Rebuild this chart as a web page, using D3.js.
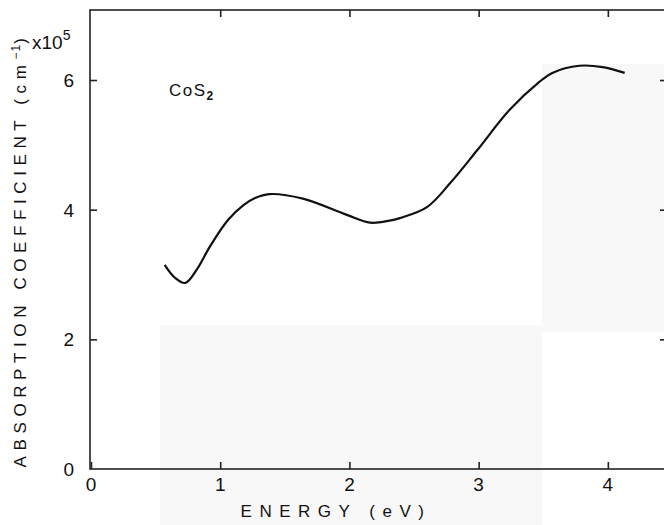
<!DOCTYPE html>
<html>
<head>
<meta charset="utf-8">
<script src="https://cdn.jsdelivr.net/npm/d3@7"></script>
<style>
  body { margin: 0; background: #fff; }
  svg { display: block; font-family: "Liberation Sans", Arial, sans-serif; }
</style>
</head>
<body>
<div class="chart"></div>
<script>
// Data ---------------------------------------------------------------------------------------
const energy = [0.57, 0.65, 0.73, 0.82, 0.92, 1.06, 1.18, 1.27, 1.38, 1.64, 1.98, 2.16, 2.31, 2.39, 2.60, 2.78, 2.99, 3.24, 3.47, 3.57, 3.78, 3.96, 4.13];
const alpha  = [3.15, 2.95, 2.87, 3.08, 3.43, 3.84, 4.07, 4.18, 4.24, 4.17, 3.92, 3.80, 3.83, 3.87, 4.04, 4.41, 4.92, 5.54, 5.97, 6.11, 6.22, 6.20, 6.11];
const xTicks = [0, 1, 2, 3, 4];
const yTicks = [0, 2, 4, 6];

const data = energy.map((e, i) => ({ e: e, a: alpha[i] }));

// SVG Dimensions ---------------------------------------------------------------------
const width = 664;
const height = 525;
const margin = { top: 10, right: -2, bottom: 56, left: 90 };

const svg = d3.select(".chart")
  .append("svg")
  .attr("width", width)
  .attr("height", height);

// faint bleed-through patches of the scan
svg.append("rect").attr("x", 160).attr("y", 325).attr("width", 382).attr("height", 200).attr("fill", "#f8f8f8");
svg.append("rect").attr("x", 542).attr("y", 64).attr("width", 122).attr("height", 268).attr("fill", "#f8f8f8");

// Scales ---------------------------------------------------------------------
const xScale = d3.scaleLinear()
  .domain([0, 4.45])
  .range([margin.left + 1, width - margin.right]);

const yScale = d3.scaleLinear()
  .domain([0, 7.08])
  .range([height - margin.bottom, margin.top]);

// Frame ---------------------------------------------------------------------
svg.append("rect")
  .attr("x", xScale(0) - 1)
  .attr("y", yScale(7.08))
  .attr("width", xScale(4.45) - xScale(0) + 1)
  .attr("height", yScale(0) - yScale(7.08))
  .attr("fill", "none")
  .attr("stroke", "#222")
  .attr("stroke-width", 1.6);

// Axes (inward ticks) ---------------------------------------------------------------------
const xAxis = d3.axisTop(xScale).tickValues(xTicks).tickSize(7).tickFormat("");
svg.append("g")
  .attr("class", "axis")
  .attr("transform", `translate(0,${yScale(0)})`)
  .call(xAxis)
  .call(g => g.select(".domain").remove());

const xAxisTop = d3.axisBottom(xScale).tickValues(xTicks.slice(1)).tickSize(7).tickFormat("");
svg.append("g")
  .attr("transform", `translate(0,${yScale(7.08)})`)
  .call(xAxisTop)
  .call(g => g.select(".domain").remove());

const yAxis = d3.axisRight(yScale).tickValues(yTicks.slice(1)).tickSize(7).tickFormat("");
svg.append("g")
  .attr("transform", `translate(${xScale(0) - 1},0)`)
  .call(yAxis)
  .call(g => g.select(".domain").remove());

const yAxisRight = d3.axisLeft(yScale).tickValues(yTicks.slice(1)).tickSize(6).tickFormat("");
svg.append("g")
  .attr("transform", `translate(${xScale(4.45)},0)`)
  .call(yAxisRight)
  .call(g => g.select(".domain").remove());

svg.selectAll(".tick line").attr("stroke", "#222").attr("stroke-width", 1.6);

// Tick labels ---------------------------------------------------------------------
svg.append("g").selectAll("text")
  .data(xTicks)
  .join("text")
  .attr("x", d => xScale(d))
  .attr("y", yScale(0) + 22)
  .attr("text-anchor", "middle")
  .attr("font-size", 19)
  .attr("fill", "#111")
  .text(d => d);

svg.append("g").selectAll("text")
  .data(yTicks)
  .join("text")
  .attr("x", 74)
  .attr("y", d => yScale(d) + 7)
  .attr("text-anchor", "end")
  .attr("font-size", 19)
  .attr("fill", "#111")
  .text(d => d);

// Multiplier
const mult = svg.append("text")
  .attr("x", 32)
  .attr("y", 49)
  .attr("font-size", 19)
  .attr("fill", "#111");
mult.append("tspan").text("x10");
mult.append("tspan").attr("dy", -9).attr("font-size", 14).text("5");

// Axis titles ---------------------------------------------------------------------
svg.append("text")
  .attr("x", 336)
  .attr("y", 517)
  .attr("text-anchor", "middle")
  .attr("font-size", 17)
  .attr("letter-spacing", 7.5)
  .attr("fill", "#111")
  .text("ENERGY (eV)");

const yTitle = svg.append("text")
  .attr("transform", `translate(26,250) rotate(-90)`)
  .attr("text-anchor", "middle")
  .attr("font-size", 17)
  .attr("letter-spacing", 5.6)
  .attr("fill", "#111");
yTitle.append("tspan").text("ABSORPTION COEFFICIENT (cm");
yTitle.append("tspan").attr("dy", -6).attr("font-size", 12).attr("letter-spacing", 1).text("−1");
yTitle.append("tspan").attr("dy", 6).text(")");

// Sample label
const lab = svg.append("text")
  .attr("x", 169)
  .attr("y", 96)
  .attr("font-size", 17)
  .attr("letter-spacing", 1.5)
  .attr("fill", "#111");
lab.append("tspan").text("CoS");
lab.append("tspan").attr("dy", 4).attr("font-size", 12).attr("font-weight", "bold").text("2");

// Curve ---------------------------------------------------------------------
const line = d3.line()
  .x(d => xScale(d.e))
  .y(d => yScale(d.a))
  .curve(d3.curveCatmullRom);

svg.append("path")
  .datum(data)
  .attr("d", line)
  .attr("fill", "none")
  .attr("stroke", "#111")
  .attr("stroke-width", 2.2);
</script>
</body>
</html>
